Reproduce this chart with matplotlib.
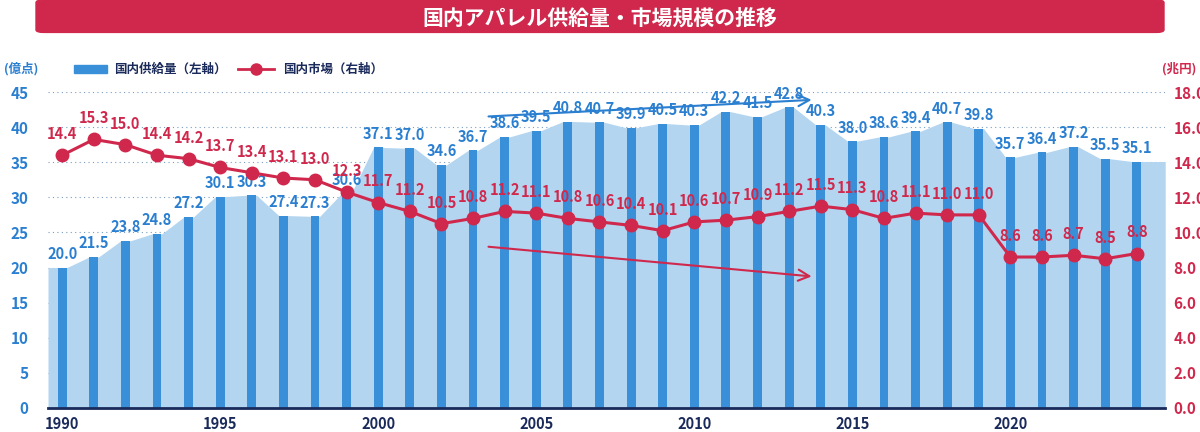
import matplotlib
matplotlib.use("Agg")
import matplotlib.pyplot as plt
import numpy as np
from matplotlib.patches import FancyBboxPatch

plt.rcParams['font.family'] = ['Noto Sans CJK JP', 'DejaVu Sans']

years = list(range(1990, 2025))
supply = [20.0,21.5,23.8,24.8,27.2,30.1,30.3,27.4,27.3,30.6,37.1,37.0,34.6,36.7,38.6,39.5,40.8,40.7,39.9,40.5,
          40.3,42.2,41.5,42.8,40.3,38.0,38.6,39.4,40.7,39.8,35.7,36.4,37.2,35.5,35.1]
market = [14.4,15.3,15.0,14.4,14.2,13.7,13.4,13.1,13.0,12.3,11.7,11.2,10.5,10.8,11.2,11.1,10.8,10.6,10.4,10.1,
          10.6,10.7,10.9,11.2,11.5,11.3,10.8,11.1,11.0,11.0,8.6,8.6,8.7,8.5,8.8]
left_ticks = [0,5,10,15,20,25,30,35,40,45]
right_ticks = [0.0,2.0,4.0,6.0,8.0,10.0,12.0,14.0,16.0,18.0]
xtick_years = [1990,1995,2000,2005,2010,2015,2020]

BLUE = '#3a8fd9'; LIGHT = '#b3d5f0'; RED = '#d0284c'; NAVY = '#1a2a5a'

fig = plt.figure(figsize=(12, 4.32), dpi=100)
ax = fig.add_axes([0.04, 0.0556, 0.931, 0.7314])
ax2 = ax.twinx()

# area polygon: flat over each bar, linear between
xs, ys = [years[0]-0.45], [supply[0]]
for y, v in zip(years, supply):
    xs += [y-0.15, y+0.15]; ys += [v, v]
xs.append(years[-1]+0.9); ys.append(supply[-1])
ax.fill_between(xs, ys, 0, color=LIGHT, lw=0, zorder=1)
ax.bar(years, supply, width=0.28, color=BLUE, zorder=2)
for y, v in zip(years, supply):
    ax.text(y, v+0.8, f'{v:.1f}', ha='center', va='bottom', color='#2b7fd0', fontsize=10.5, fontweight='bold', zorder=5)

ax.set_ylim(0, 45)
ax.set_xlim(years[0]-0.45, years[-1]+0.9)
ax.set_yticks(left_ticks)
ax.set_yticklabels([str(t) for t in left_ticks], color='#2b7fd0', fontweight='bold', fontsize=11)
ax.set_xticks(xtick_years)
ax.set_xticklabels([str(t) for t in xtick_years], color=NAVY, fontweight='bold', fontsize=10.5)
ax.tick_params(length=0, pad=6)
ax.tick_params(axis='y', pad=14)
for t in left_ticks[1:]:
    ax.axhline(t, color='#7a9cc0', lw=0.8, ls=(0, (1, 3)), zorder=0.5)
for s in ['top', 'left', 'right']:
    ax.spines[s].set_visible(False)
ax.spines['bottom'].set_color(NAVY); ax.spines['bottom'].set_linewidth(2)
ax.spines['bottom'].set_zorder(6)

ax2.plot(years, market, color=RED, lw=2.2, marker='o', ms=9, zorder=4)
for y, v in zip(years, market):
    ax2.text(y, v+0.75, f'{v:.1f}', ha='center', va='bottom', color=RED, fontsize=10.5, fontweight='bold')
ax2.set_ylim(0, 18)
ax2.set_yticks(right_ticks)
ax2.set_yticklabels([f'{t:.1f}' for t in right_ticks], color=RED, fontweight='bold', fontsize=11)
ax2.tick_params(length=0, pad=6)
for s in ax2.spines.values():
    s.set_visible(False)
ax2.set_zorder(ax.get_zorder()+1); ax2.patch.set_visible(False)

# arrows
ax.annotate('', xy=(2013.8, 43.9), xytext=(2003.4, 41.5),
            arrowprops=dict(arrowstyle='->', color='#2b7fd0', lw=1.5, mutation_scale=20), zorder=6, annotation_clip=False)
ax.annotate('', xy=(2013.8, 18.7), xytext=(2003.4, 23.0),
            arrowprops=dict(arrowstyle='->', color=RED, lw=1.5, mutation_scale=20), zorder=6)

# header
hdr = FancyBboxPatch((0.03, 0.925), 0.94, 0.075, boxstyle='round,pad=0,rounding_size=0.006',
                     transform=fig.transFigure, color=RED, zorder=0)
fig.patches.append(hdr)
fig.text(0.5, 0.958, '国内アパレル供給量・市場規模の推移', ha='center', va='center', color='white',
         fontsize=15, fontweight='bold')

fig.text(0.003, 0.84, '(億点)', color='#2b7fd0', fontsize=9, fontweight='bold', va='center')
fig.text(0.997, 0.84, '(兆円)', color=RED, fontsize=9, fontweight='bold', va='center', ha='right')

# legend
fig.patches.append(plt.Rectangle((0.062, 0.83), 0.027, 0.02, transform=fig.transFigure, color=BLUE))
fig.text(0.095, 0.84, '国内供給量（左軸）', color=NAVY, fontsize=9, fontweight='bold', va='center')
fig.lines.append(plt.Line2D([0.198, 0.228], [0.84, 0.84], transform=fig.transFigure, color=RED, lw=2))
fig.lines.append(plt.Line2D([0.213], [0.84], transform=fig.transFigure, color=RED, marker='o', ms=8))
fig.text(0.236, 0.84, '国内市場（右軸）', color=NAVY, fontsize=9, fontweight='bold', va='center')

fig.savefig('out.png', dpi=100)
